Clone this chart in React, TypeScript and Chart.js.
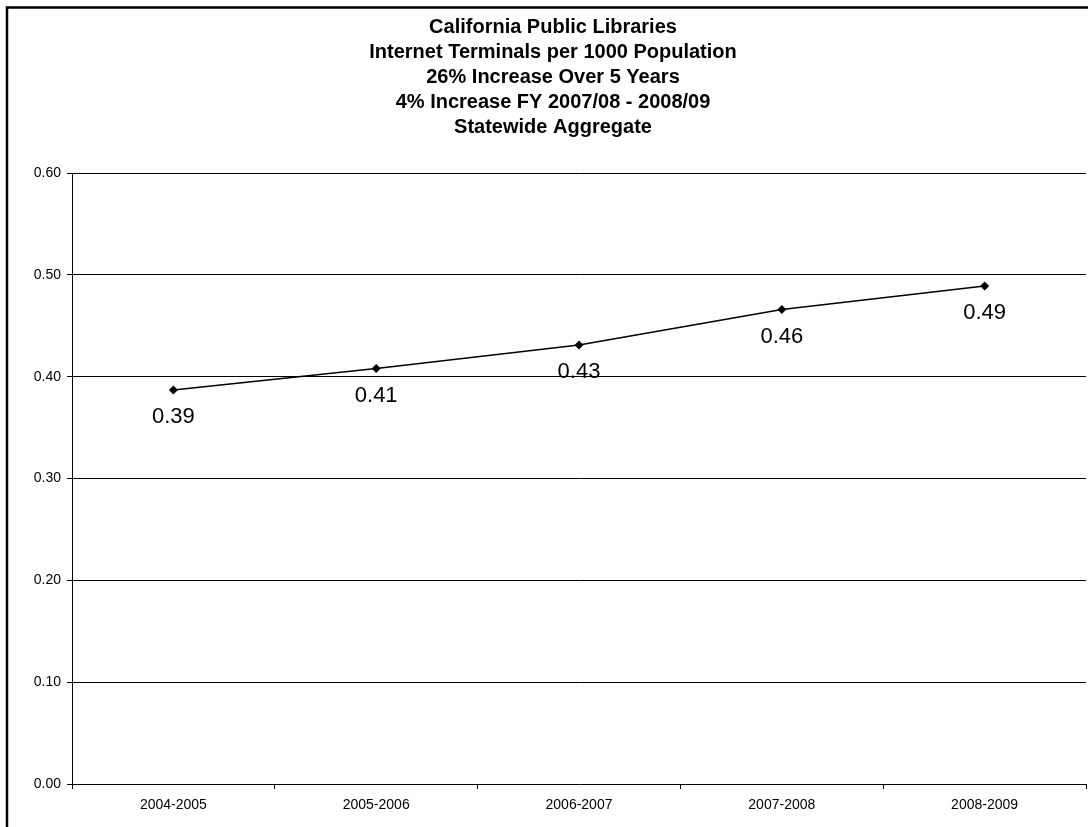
import React, { useEffect, useRef } from "react";
import { Chart, registerables } from "chart.js";

Chart.register(...registerables);

const titleLines = [
  "California Public Libraries",
  "Internet Terminals per 1000 Population",
  "26% Increase Over 5 Years",
  "4% Increase FY 2007/08 - 2008/09",
  "Statewide Aggregate",
];
const categories = ["2004-2005", "2005-2006", "2006-2007", "2007-2008", "2008-2009"];
const values = [0.387, 0.408, 0.431, 0.466, 0.489];
const valueLabels = ["0.39", "0.41", "0.43", "0.46", "0.49"];
const yMin = 0;
const yMax = 0.6;
const yStep = 0.1;

const FONT = "'Liberation Sans', Arial, sans-serif";

const framePlugin = {
  id: "frame",
  afterDraw(chart: any) {
    const ctx = chart.ctx;
    ctx.save();
    ctx.strokeStyle = "#000";
    ctx.lineWidth = 2.5;
    ctx.beginPath();
    ctx.moveTo(7, 827);
    ctx.lineTo(7, 7.5);
    ctx.lineTo(chart.width, 7.5);
    ctx.stroke();
    ctx.restore();
  },
};

const valueLabelPlugin = {
  id: "valueLabels",
  afterDatasetsDraw(chart: any) {
    const ctx = chart.ctx;
    const meta = chart.getDatasetMeta(0);
    ctx.save();
    ctx.fillStyle = "#000";
    ctx.font = `22px ${FONT}`;
    ctx.textAlign = "center";
    ctx.textBaseline = "middle";
    meta.data.forEach((pt: any, i: number) => {
      ctx.fillText(valueLabels[i], pt.x, pt.y + 27);
    });
    ctx.restore();
  },
};

export default function App() {
  const ref = useRef<HTMLCanvasElement | null>(null);

  useEffect(() => {
    if (!ref.current) return;
    const chart = new Chart(ref.current, {
      type: "line",
      data: {
        labels: categories,
        datasets: [
          {
            data: values,
            borderColor: "#000",
            borderWidth: 1.5,
            pointStyle: "rectRot",
            pointRadius: 4.5,
            pointHoverRadius: 4.5,
            pointBorderWidth: 0,
            pointBackgroundColor: "#000",
            pointBorderColor: "#000",
            tension: 0,
            fill: false,
          },
        ],
      },
      options: {
        animation: false,
        responsive: false,
        maintainAspectRatio: false,
        layout: { padding: { left: 20, right: 5, top: 6, bottom: 0 } },
        plugins: {
          legend: { display: false },
          tooltip: { enabled: false },
          title: {
            display: true,
            text: titleLines,
            color: "#000",
            font: { family: FONT, size: 20, weight: "bold", lineHeight: 1.25 },
            padding: { top: 8.5, bottom: 33.5 },
          },
        },
        scales: {
          x: {
            type: "category",
            offset: true,
            grid: {
              offset: true,
              drawOnChartArea: false,
              drawTicks: true,
              tickLength: 5,
              color: "#000",
              lineWidth: 1,
            },
            border: { display: false },
            ticks: {
              color: "#000",
              font: { family: FONT, size: 14 },
              padding: 8,
              maxRotation: 0,
            },
            afterFit: (s: any) => {
              s.height = 43;
              s.paddingLeft = 0;
              s.paddingRight = 0;
            },
          },
          y: {
            min: yMin,
            max: yMax,
            grid: {
              color: "#000",
              lineWidth: 1,
              drawTicks: true,
              tickLength: 5,
            },
            border: { display: true, color: "#000", width: 1 },
            ticks: {
              stepSize: yStep,
              color: "#000",
              font: { family: FONT, size: 14 },
              padding: 6,
              callback: (v: any) => Number(v).toFixed(2),
            },
            afterFit: (s: any) => {
              s.width = 52;
            },
          },
        },
      },
      plugins: [framePlugin, valueLabelPlugin],
    } as any);
    return () => chart.destroy();
  }, []);

  return (
    <div
      style={{
        position: "absolute",
        left: 0,
        top: 0,
        width: 1088,
        height: 827,
        overflow: "hidden",
        background: "#fff",
      }}
    >
      <canvas ref={ref} width={1091} height={827} style={{ display: "block" }} />
    </div>
  );
}
